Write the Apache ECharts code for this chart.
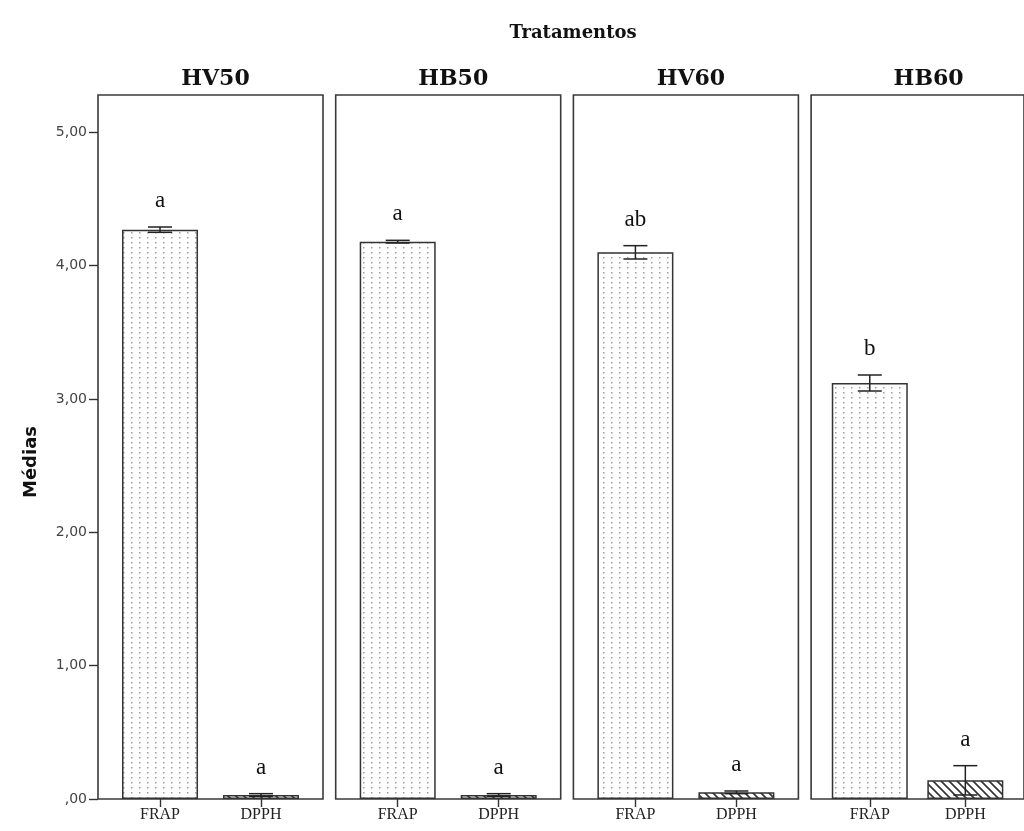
<!DOCTYPE html>
<html>
<head>
<meta charset="utf-8">
<script src="https://cdn.jsdelivr.net/npm/echarts@6/dist/echarts.min.js"></script>
<style>
  html, body { margin: 0; padding: 0; background: #fff; }
  #chart { width: 1024px; height: 831px; }
</style>
</head>
<body>
<div id="chart"></div>
<script>
// Treatments (panels) and measured variables (bars inside each panel)
const treatments = ['HV50', 'HB50', 'HV60', 'HB60'];
const measures = ['FRAP', 'DPPH'];

// Mean values and error half-widths per treatment
const frapMean = [4.27, 4.18, 4.10, 3.12];
const frapErr = [0.02, 0.01, 0.05, 0.06];
const dpphMean = [0.03, 0.03, 0.05, 0.14];
const dpphErr = [0.01, 0.01, 0.01, 0.11];

// Significance letters
const frapLetters = ['a', 'a', 'ab', 'b'];
const dpphLetters = ['a', 'a', 'a', 'a'];

// Y axis ticks
const yTicks = [0, 1, 2, 3, 4, 5];

// Fill patterns: dotted columns for FRAP, diagonal hatch for DPPH
function dotPattern() {
  const c = document.createElement('canvas');
  c.width = 8; c.height = 5;
  const g = c.getContext('2d');
  g.fillStyle = '#ffffff';
  g.fillRect(0, 0, 8, 5);
  g.fillStyle = '#a0a0a0';
  g.fillRect(3, 2, 1.5, 1.5);
  return c;
}
function hatchPattern() {
  const c = document.createElement('canvas');
  c.width = 8; c.height = 8;
  const g = c.getContext('2d');
  g.fillStyle = '#ffffff';
  g.fillRect(0, 0, 8, 8);
  g.strokeStyle = '#333333';
  g.lineWidth = 1.6;
  g.beginPath();
  g.moveTo(-2, -2); g.lineTo(10, 10);
  g.moveTo(-2, 6); g.lineTo(2, 10);
  g.moveTo(6, -2); g.lineTo(10, 2);
  g.stroke();
  return c;
}
const dotFill = { image: dotPattern(), repeat: 'repeat' };
const hatchFill = { image: hatchPattern(), repeat: 'repeat' };

const panelLeft = 98, panelStep = 237.7, panelWidth = 225;
const gridTop = 95, gridBottomY = 799;
const yMax = 5.28;

const grids = [], xAxes = [], yAxes = [], series = [], titles = [];

titles.push({
  text: 'Tratamentos', left: 568, top: 19, textAlign: 'center',
  textStyle: { fontFamily: 'DejaVu Serif', fontWeight: 'bold', fontSize: 18, color: '#111' }
});

treatments.forEach((t, i) => {
  const left = panelLeft + i * panelStep;
  grids.push({
    left: left, top: gridTop, width: panelWidth, height: gridBottomY - gridTop,
    show: true, borderColor: '#3a3a3a', borderWidth: 1.6, backgroundColor: '#fff'
  });
  titles.push({
    text: t, left: left + panelWidth / 2, top: 63, textAlign: 'center',
    textStyle: { fontFamily: 'DejaVu Serif', fontWeight: 'bold', fontSize: 22, color: '#111' }
  });
  xAxes.push({
    type: 'value', gridIndex: i, min: -0.614, max: 1.614, position: 'bottom',
    splitLine: { show: false },
    axisLine: { show: false, onZero: false },
    axisTick: { show: true, customValues: [0, 1], length: 8, lineStyle: { color: '#333', width: 1.4 } },
    axisLabel: {
      show: true, customValues: [0, 1], margin: 8,
      formatter: v => measures[Math.round(v)],
      fontFamily: 'Liberation Serif', fontSize: 16, color: '#222'
    }
  });
  yAxes.push({
    type: 'value', gridIndex: i, min: 0, max: yMax, position: 'left',
    splitLine: { show: false },
    axisLine: { show: false, onZero: false },
    axisTick: { show: i === 0, inside: false, length: 9, customValues: yTicks, lineStyle: { color: '#333', width: 1.4 } },
    axisLabel: {
      show: i === 0, customValues: yTicks, margin: 11,
      formatter: v => v === 0 ? ',00' : v.toFixed(2).replace('.', ','),
      fontFamily: 'DejaVu Sans', fontSize: 14, color: '#444'
    }
  });

  series.push({
    type: 'bar', xAxisIndex: i, yAxisIndex: i, barWidth: 76,
    itemStyle: { borderColor: '#333', borderWidth: 1.5 },
    data: [
      { value: [0, frapMean[i]], itemStyle: { color: dotFill } },
      { value: [1, dpphMean[i]], itemStyle: { color: hatchFill } }
    ],
    z: 2
  });

  series.push({
    type: 'custom', xAxisIndex: i, yAxisIndex: i, z: 5,
    data: [
      [0, frapMean[i], frapErr[i]],
      [1, dpphMean[i], dpphErr[i]]
    ],
    renderItem: (params, api) => {
      const x = api.value(0), m = api.value(1), e = api.value(2);
      const top = api.coord([x, m + e]);
      const bot = api.coord([x, m - e]);
      const cap = 12;
      const ls = { stroke: '#222', lineWidth: 1.5 };
      const letter = params.dataIndex === 0 ? frapLetters[i] : dpphLetters[i];
      return {
        type: 'group',
        children: [
          { type: 'line', shape: { x1: top[0], y1: top[1], x2: bot[0], y2: bot[1] }, style: ls },
          { type: 'line', shape: { x1: top[0] - cap, y1: top[1], x2: top[0] + cap, y2: top[1] }, style: ls },
          { type: 'line', shape: { x1: bot[0] - cap, y1: bot[1], x2: bot[0] + cap, y2: bot[1] }, style: ls },
          {
            type: 'text', x: top[0], y: top[1] - 26,
            style: {
              text: letter, align: 'center', verticalAlign: 'middle',
              font: '23px "Liberation Serif"', fill: '#111'
            }
          }
        ]
      };
    }
  });
});

const chart = echarts.init(document.getElementById('chart'), null, { renderer: 'canvas' });
chart.setOption({
  backgroundColor: '#fff',
  animation: false,
  title: titles,
  grid: grids,
  xAxis: xAxes,
  yAxis: yAxes,
  series: series,
  graphic: [{
    type: 'text', x: 31, y: 462, rotation: Math.PI / 2,
    style: {
      text: 'Médias', align: 'center', verticalAlign: 'middle',
      font: 'bold 18px "DejaVu Sans"', fill: '#111'
    }
  }]
});
</script>
</body>
</html>
